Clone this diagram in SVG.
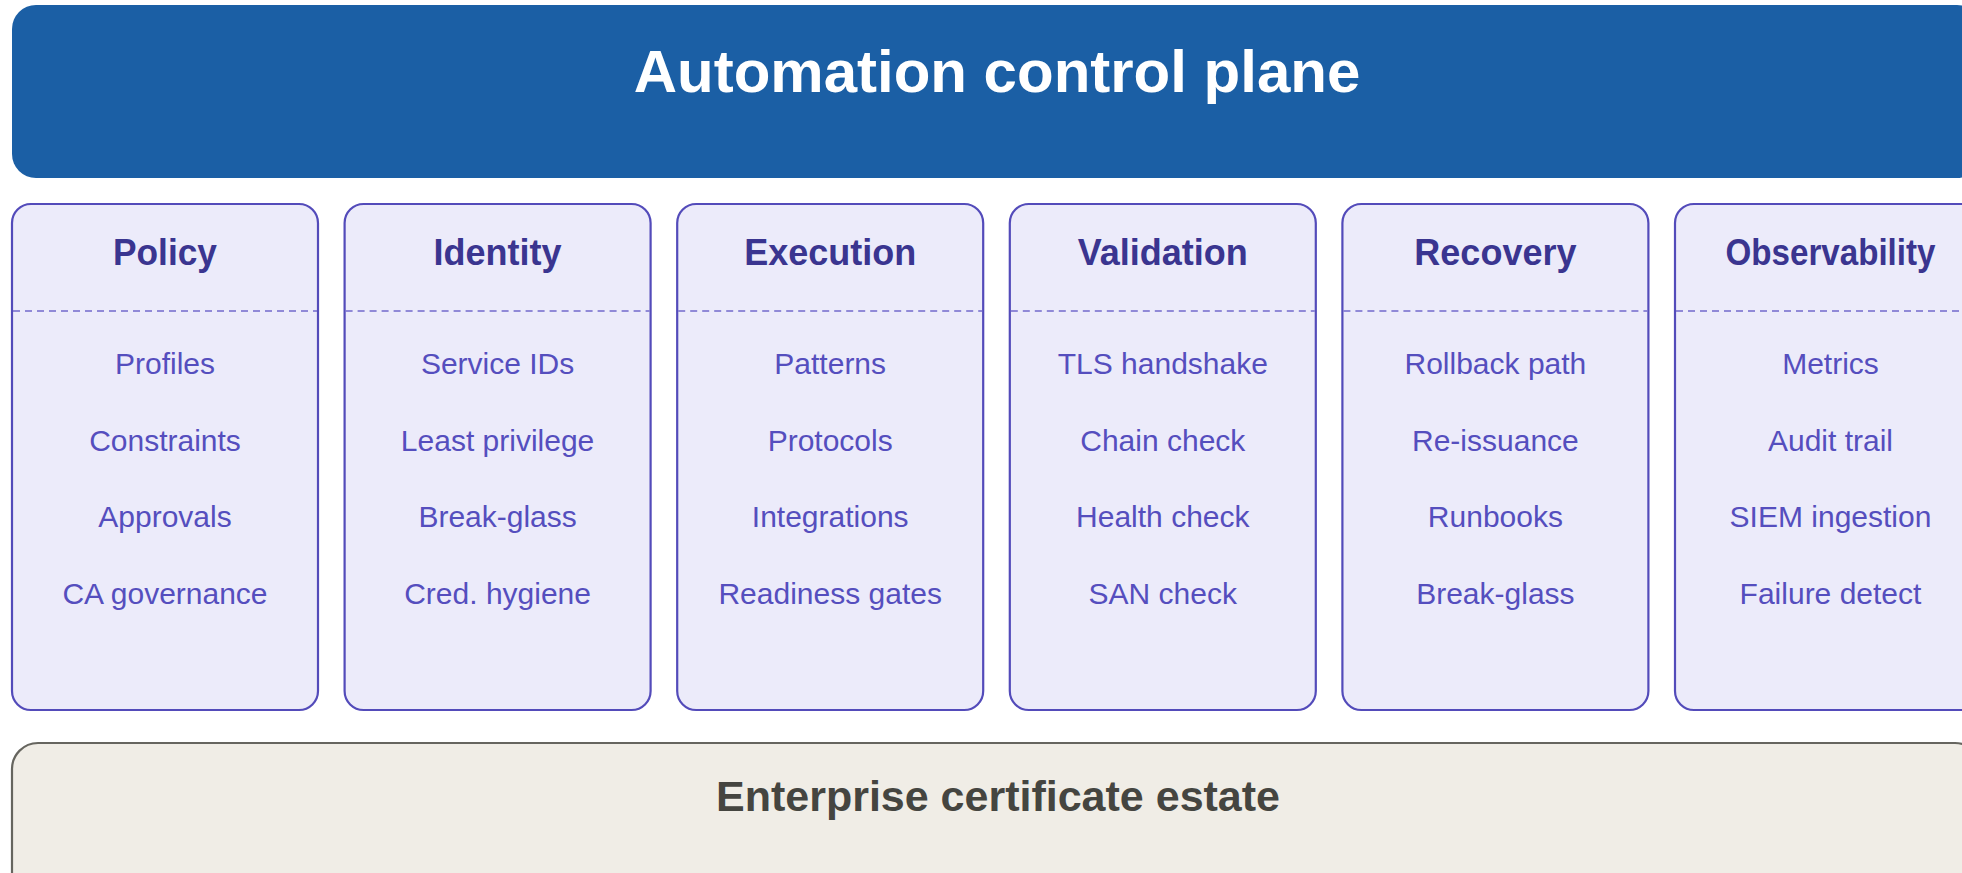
<svg xmlns="http://www.w3.org/2000/svg" width="1962" height="873" viewBox="0 0 1962 873">
<style>
.banner{fill:#1B5FA5;}
.bannerText{font-family:"Liberation Sans",Arial,sans-serif;font-weight:bold;font-size:60px;fill:#ffffff;text-anchor:middle;}
.card{fill:#ECEBFA;stroke:#534BBA;stroke-width:2.2;}
.sep{stroke:#7169CC;stroke-width:1.6;stroke-dasharray:7 5;fill:none;}
.title{font-family:"Liberation Sans",Arial,sans-serif;font-weight:bold;font-size:36px;fill:#3A3590;text-anchor:middle;}
.item{font-family:"Liberation Sans",Arial,sans-serif;font-size:30px;fill:#554EBE;text-anchor:middle;}
.base{fill:#F0EDE6;stroke:#66655F;stroke-width:2.2;}
.baseText{font-family:"Liberation Sans",Arial,sans-serif;font-weight:bold;font-size:43px;fill:#454540;text-anchor:middle;}
</style>
<g id="control-plane">
<rect class="banner" x="12" y="5" width="1969" height="173" rx="24"/>
<text class="bannerText" x="997" y="92">Automation control plane</text>
</g>
<g id="policy">
<rect class="card" x="12" y="204" width="306" height="506" rx="19"/>
<line class="sep" x1="13" y1="311" x2="317" y2="311"/>
<text class="title" x="165" y="265" textLength="104" lengthAdjust="spacingAndGlyphs">Policy</text>
<text class="item" x="165" y="374">Profiles</text>
<text class="item" x="165" y="451">Constraints</text>
<text class="item" x="165" y="527">Approvals</text>
<text class="item" x="165" y="604">CA governance</text>
</g>
<g id="identity">
<rect class="card" x="344.6" y="204" width="306" height="506" rx="19"/>
<line class="sep" x1="345.6" y1="311" x2="649.6" y2="311"/>
<text class="title" x="497.6" y="265">Identity</text>
<text class="item" x="497.6" y="374">Service IDs</text>
<text class="item" x="497.6" y="451">Least privilege</text>
<text class="item" x="497.6" y="527">Break-glass</text>
<text class="item" x="497.6" y="604">Cred. hygiene</text>
</g>
<g id="execution">
<rect class="card" x="677.2" y="204" width="306" height="506" rx="19"/>
<line class="sep" x1="678.2" y1="311" x2="982.2" y2="311"/>
<text class="title" x="830.2" y="265">Execution</text>
<text class="item" x="830.2" y="374">Patterns</text>
<text class="item" x="830.2" y="451">Protocols</text>
<text class="item" x="830.2" y="527">Integrations</text>
<text class="item" x="830.2" y="604">Readiness gates</text>
</g>
<g id="validation">
<rect class="card" x="1009.8" y="204" width="306" height="506" rx="19"/>
<line class="sep" x1="1010.8" y1="311" x2="1314.8" y2="311"/>
<text class="title" x="1162.8" y="265" textLength="170" lengthAdjust="spacingAndGlyphs">Validation</text>
<text class="item" x="1162.8" y="374">TLS handshake</text>
<text class="item" x="1162.8" y="451">Chain check</text>
<text class="item" x="1162.8" y="527">Health check</text>
<text class="item" x="1162.8" y="604">SAN check</text>
</g>
<g id="recovery">
<rect class="card" x="1342.4" y="204" width="306" height="506" rx="19"/>
<line class="sep" x1="1343.4" y1="311" x2="1647.4" y2="311"/>
<text class="title" x="1495.4" y="265">Recovery</text>
<text class="item" x="1495.4" y="374">Rollback path</text>
<text class="item" x="1495.4" y="451">Re-issuance</text>
<text class="item" x="1495.4" y="527">Runbooks</text>
<text class="item" x="1495.4" y="604">Break-glass</text>
</g>
<g id="observability">
<rect class="card" x="1675" y="204" width="306" height="506" rx="19"/>
<line class="sep" x1="1676" y1="311" x2="1980" y2="311"/>
<text class="title" x="1830.5" y="265" textLength="210" lengthAdjust="spacingAndGlyphs">Observability</text>
<text class="item" x="1830.5" y="374">Metrics</text>
<text class="item" x="1830.5" y="451">Audit trail</text>
<text class="item" x="1830.5" y="527">SIEM ingestion</text>
<text class="item" x="1830.5" y="604">Failure detect</text>
</g>
<g id="connectors"></g>
<g id="certificate-estate">
<rect class="base" x="12" y="743" width="1969" height="170" rx="26"/>
<text class="baseText" x="998" y="811">Enterprise certificate estate</text>
</g>
</svg>
